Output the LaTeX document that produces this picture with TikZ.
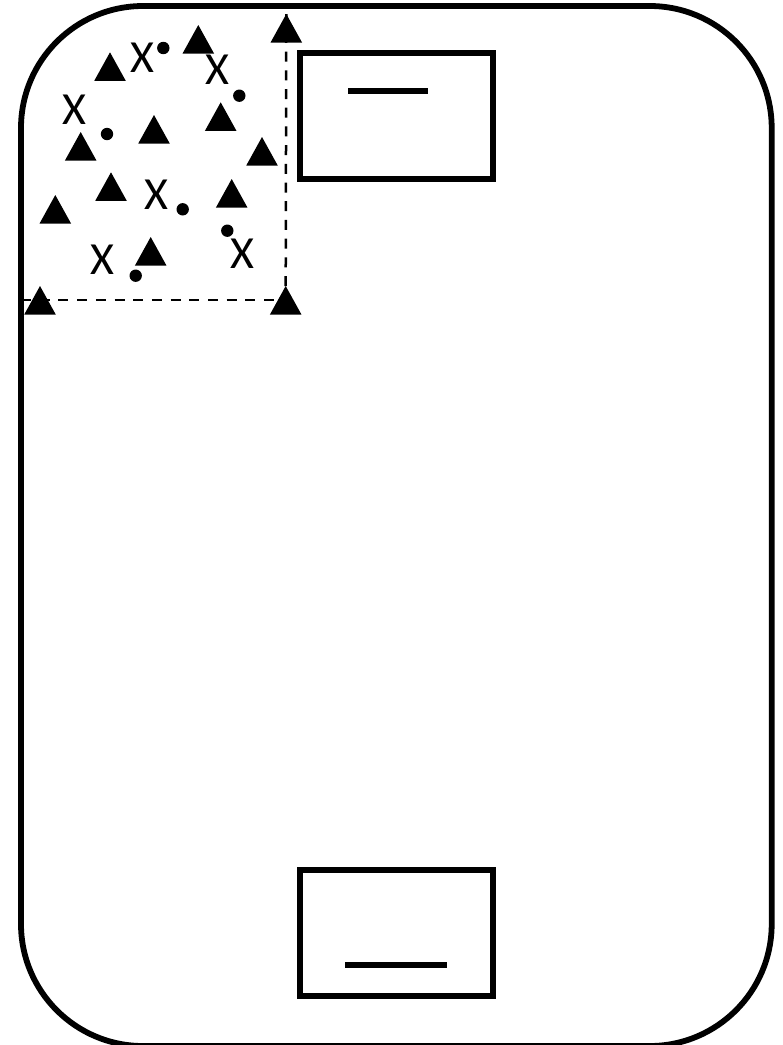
\documentclass[tikz,border=0pt]{standalone}
\usepackage{fontspec}
\setsansfont{Carlito}
\usepackage{tikz}
\usetikzlibrary{arrows.meta, positioning, calc, shapes.geometric}

\tikzset{
    wall/.style={line width=5.8pt, rounded corners=122pt},
    goalbox/.style={draw, line width=6pt, minimum width=193pt, minimum height=126pt, inner sep=0pt},
    goalline/.style={line width=6pt},
    marker/.style={isosceles triangle, isosceles triangle stretches, shape border rotate=90, fill=black,
        minimum width=31.5pt, minimum height=28.5pt, inner sep=0pt, outer sep=0pt, anchor=apex},
    ball/.style={circle, fill=black, minimum size=12.4pt, inner sep=0pt},
    cross/.style={inner sep=0pt, font=\sffamily\fontsize{46}{46}\selectfont},
    zone/.style={dashed, line width=2.5pt, dash pattern=on 10pt off 8.7pt}
}

\begin{document}
\begin{tikzpicture}[x=1pt, y=-1pt]
    \useasboundingbox (0,0) rectangle (783,1045);

    \draw[wall] (21,6) rectangle (771.7,1046);

    \node[goalbox] (topbox) at (396.5,116) {};
    \node[goalbox] (bottombox) at (396.5,933) {};
    \draw[goalline] (348,91) -- (428,91);
    \draw[goalline] (345,965) -- (447,965);

    \foreach \x/\y/\n in {198.3/25/a, 110/52.3/b, 220.7/102.3/c, 154/115/d, 80.7/132/e, 262/137/f,
        111/172.3/g, 231.7/179/h, 55.3/195/i, 150.7/237/j, 40/286/corner, 285.7/286/pivot, 286.3/14/peak}
        \node[marker] (tri\n) at (\x,\y) {};

    \foreach \x/\y/\n in {163.3/48/a, 239.3/95.7/b, 107/134/c, 182.7/209.3/d, 227.3/230.7/e, 135.7/275.7/f}
        \node[ball] (ball\n) at (\x,\y) {};

    \foreach \x/\y/\n in {142.3/57.7/a, 217.7/69.7/b, 74.3/109.7/c, 156.7/194.7/d, 102.7/260/e, 242.3/254/f}
        \node[cross] (cross\n) at (\x,\y) {X};

    \coordinate (wallpt) at (21,300);
    \draw[zone] (wallpt) -- (wallpt -| tripivot.apex);
    \draw[zone] (tripivot.apex) -- (tripeak.apex);
\end{tikzpicture}
\end{document}
